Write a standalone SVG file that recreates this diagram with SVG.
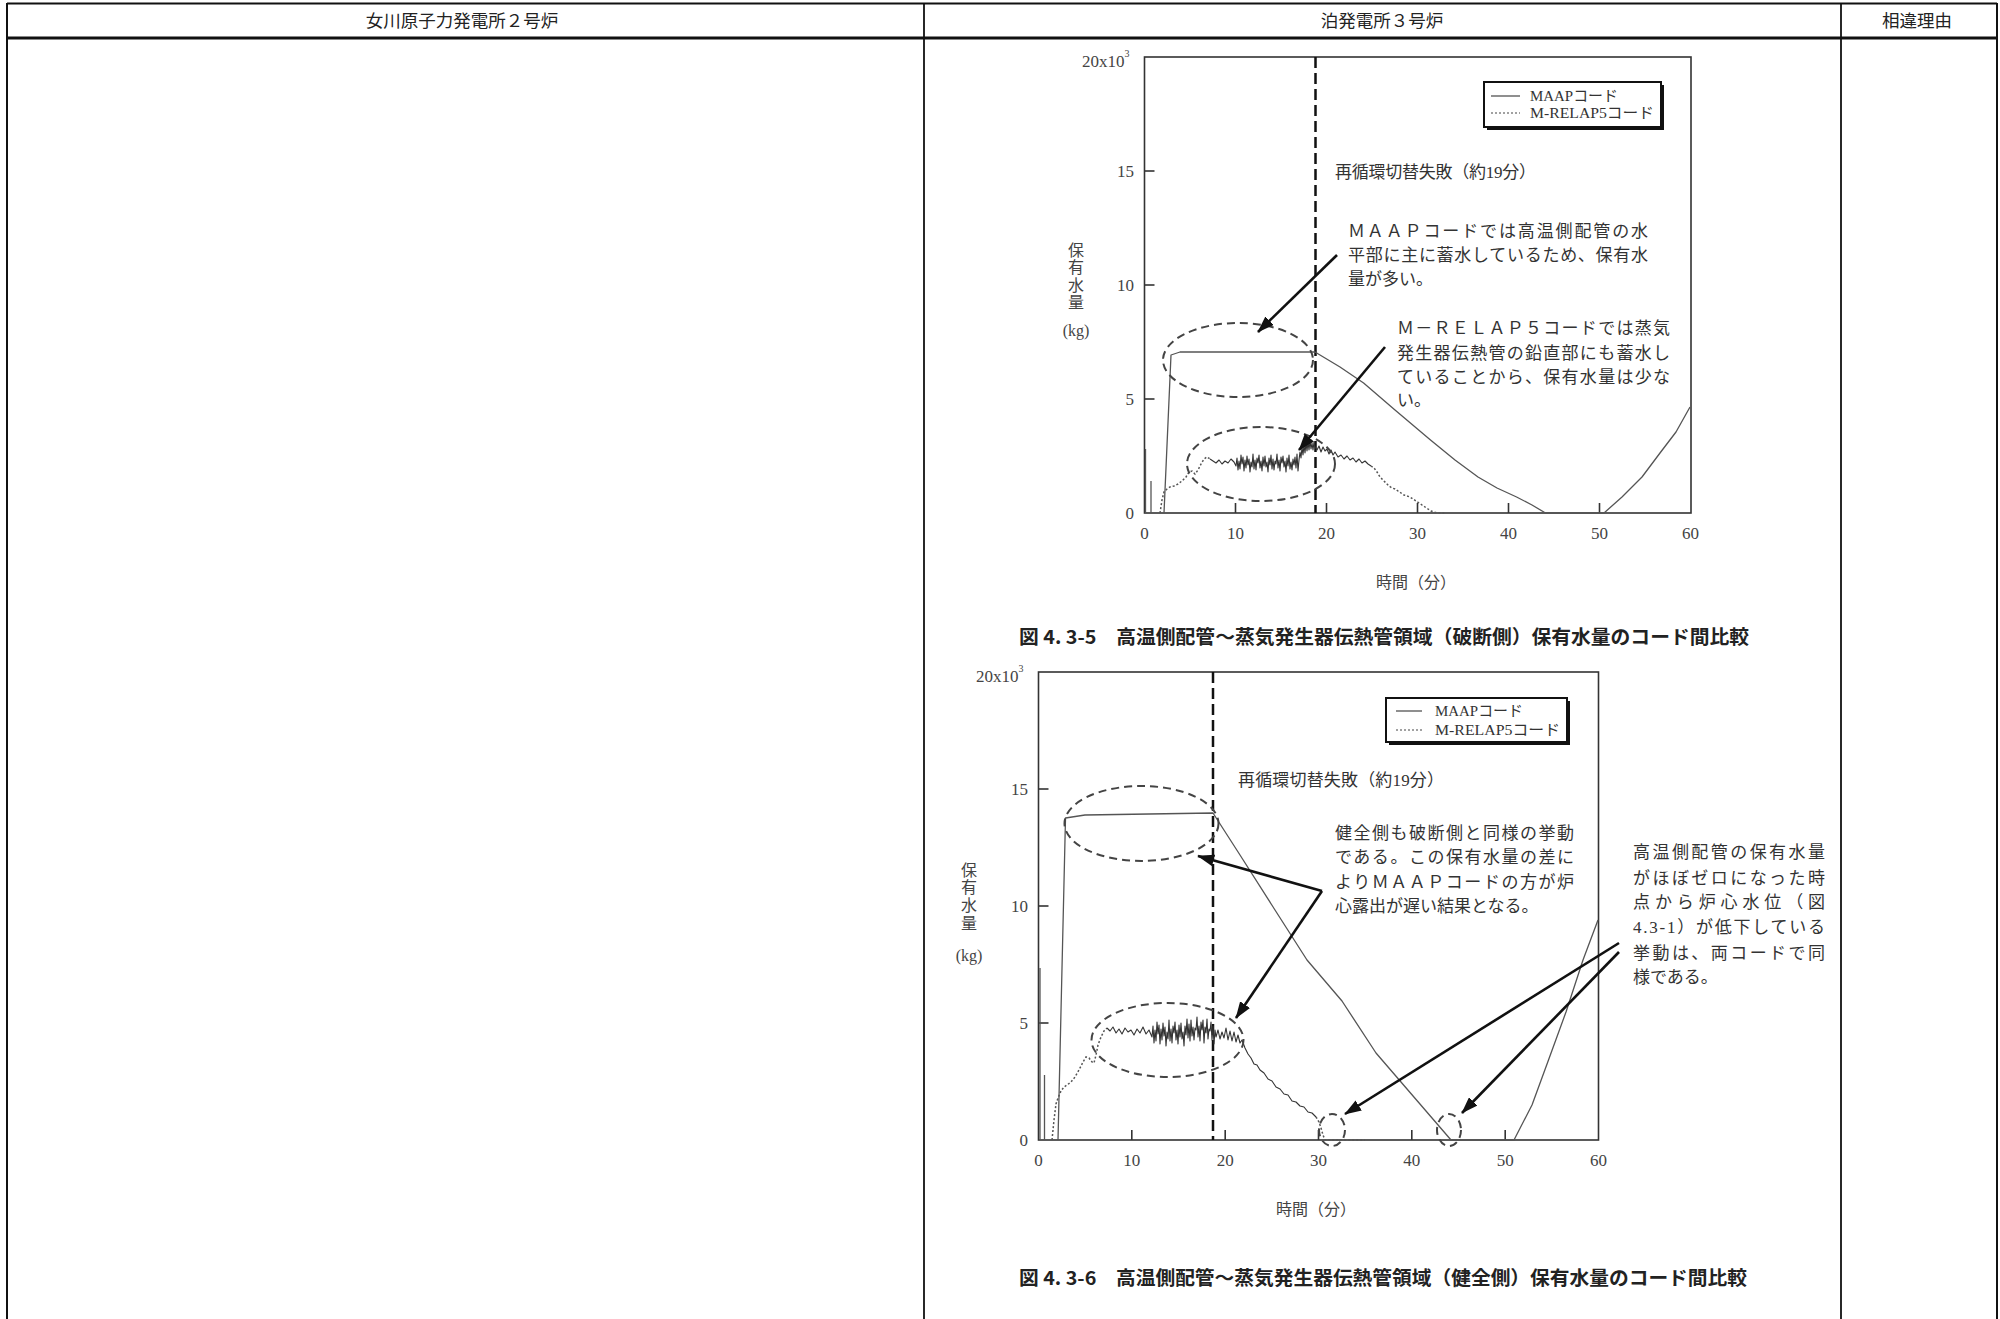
<svg xmlns="http://www.w3.org/2000/svg" width="2000" height="1319" viewBox="0 0 2000 1319">
<style>
.tbl{stroke:#111;fill:none}
.hdr{font-family:"Noto Sans CJK JP","Noto Sans",sans-serif;font-size:17.5px;fill:#222;text-anchor:middle}
.frame{fill:none;stroke:#333;stroke-width:1.6}
.tick{stroke:#333;stroke-width:1.6}
.num{font-family:"Liberation Serif","Noto Sans CJK JP",serif;font-size:17px;fill:#444}
.numx{font-family:"Liberation Serif","Noto Sans CJK JP",serif;font-size:17px;fill:#444;text-anchor:middle}
.lbl{font-family:"Liberation Serif","Noto Sans CJK JP",serif;font-size:16px;fill:#444;text-anchor:middle}
.ann{font-family:"Liberation Serif","Noto Sans CJK JP",serif;font-size:17px;fill:#333}
.cap{font-family:"Noto Sans CJK JP","Liberation Sans",sans-serif;font-size:19px;font-weight:bold;fill:#222}
.leg{font-family:"Liberation Serif","Noto Sans CJK JP",serif;font-size:15px;fill:#333}
.maap{fill:none;stroke:#555;stroke-width:1.3;stroke-linejoin:round}
.relapdot{fill:none;stroke:#555;stroke-width:1.5;stroke-dasharray:2 2}
.relapn{fill:none;stroke:#333;stroke-width:1.1;stroke-linejoin:round}
.trip{stroke:#111;stroke-width:2.5;stroke-dasharray:11 5}
.ell{fill:none;stroke:#444;stroke-width:2;stroke-dasharray:8 5}
.arr{stroke:#111;stroke-width:2.6;fill:none;marker-end:url(#ah)}
.legbox{fill:#fff;stroke:#111;stroke-width:2}
.shadow{stroke:#111;stroke-width:2}
</style>
<defs>
<marker id="ah" viewBox="0 0 10 7" refX="9.5" refY="3.5" markerWidth="17" markerHeight="12" markerUnits="userSpaceOnUse" orient="auto">
<path d="M0,0 L10,3.5 L0,7 z" fill="#111"/>
</marker>
</defs>
<rect width="2000" height="1319" fill="#fff"/>

<g id="table">
<line class="tbl" x1="7" y1="3.5" x2="1997" y2="3.5" stroke-width="2.2"/>
<line class="tbl" x1="7" y1="38" x2="1997" y2="38" stroke-width="3"/>
<line class="tbl" x1="7" y1="3" x2="7" y2="1319" stroke-width="2"/>
<line class="tbl" x1="924" y1="3" x2="924" y2="1319" stroke-width="1.8"/>
<line class="tbl" x1="1841" y1="3" x2="1841" y2="1319" stroke-width="1.8"/>
<line class="tbl" x1="1997" y1="3" x2="1997" y2="1319" stroke-width="2"/>
<text class="hdr" x="462" y="27">女川原子力発電所２号炉</text>
<text class="hdr" x="1382" y="27">泊発電所３号炉</text>
<text class="hdr" x="1917" y="27">相違理由</text>
</g>

<g id="chart-4-3-5">
<rect class="frame" x="1144.5" y="57" width="546.5" height="456"/>
<g class="tick">
<line x1="1235.5" y1="513" x2="1235.5" y2="503"/><line x1="1326.5" y1="513" x2="1326.5" y2="503"/><line x1="1417.5" y1="513" x2="1417.5" y2="503"/><line x1="1508.5" y1="513" x2="1508.5" y2="503"/><line x1="1599.5" y1="513" x2="1599.5" y2="503"/>
<line x1="1144.5" y1="399" x2="1154.5" y2="399"/><line x1="1144.5" y1="285" x2="1154.5" y2="285"/><line x1="1144.5" y1="171" x2="1154.5" y2="171"/>
</g>
<text class="num" x="1082" y="67">20x10<tspan dy="-10" font-size="10">3</tspan></text>
<text class="num" x="1134" y="177" text-anchor="end">15</text>
<text class="num" x="1134" y="291" text-anchor="end">10</text>
<text class="num" x="1134" y="405" text-anchor="end">5</text>
<text class="num" x="1134" y="519" text-anchor="end">0</text>
<g class="numx">
<text x="1144.5" y="539">0</text><text x="1235.5" y="539">10</text><text x="1326.5" y="539">20</text><text x="1417.5" y="539">30</text><text x="1508.5" y="539">40</text><text x="1599.5" y="539">50</text><text x="1690.5" y="539">60</text>
</g>
<text class="lbl" x="1416" y="588">時間（分）</text>
<g class="lbl">
<text x="1076" y="256">保</text><text x="1076" y="273">有</text><text x="1076" y="291">水</text><text x="1076" y="308">量</text><text x="1076" y="336">(kg)</text>
</g>
<g id="legend-1">
<line class="shadow" x1="1663" y1="85" x2="1663" y2="129"/><line class="shadow" x1="1487" y1="129" x2="1664" y2="129"/>
<rect class="legbox" x="1484" y="82" width="177" height="45"/>
<line x1="1491" y1="96" x2="1520" y2="96" stroke="#444" stroke-width="1.2"/>
<line x1="1491" y1="113" x2="1520" y2="113" stroke="#444" stroke-width="1.2" stroke-dasharray="2 2"/>
<text class="leg" x="1530" y="101" textLength="88" lengthAdjust="spacingAndGlyphs">MAAPコード</text>
<text class="leg" x="1530" y="118" textLength="124" lengthAdjust="spacingAndGlyphs">M-RELAP5コード</text>
</g>
<line class="trip" x1="1315.5" y1="57" x2="1315.5" y2="513"/>
<text class="ann" x="1335" y="178" font-size="16" textLength="201">再循環切替失敗（約19分）</text>
<g id="maap-1">
<polyline class="maap" points="1145.5,513 1145.5,449"/>
<polyline class="maap" points="1151,513 1151,481"/>
<polyline class="maap" points="1164,513 1171,355 1180,352 1315,352 1340,367 1363.6,383 1395,410 1430.5,440 1455,460 1478,477 1497,488 1516.6,497 1532,505 1545.5,513 1604,513 1622,497 1642,477 1660,453 1676,432 1690,407"/>
</g>
<g id="relap-1">
<polyline class="relapdot" points="1160,513 1162,500 1164,492 1167,489 1170,487 1174,486 1178,484 1182,481 1186,477 1189,472 1192,471 1195,474 1198,470 1201,464 1204,459 1207,457 1210,459"/>
<polyline class="relapn" points="1210,459 1213,461 1216,463 1219,460 1222,464 1225,461 1228,463 1231,459 1234,462 1236,466 1237,458 1238,470 1239,461 1240,469 1241,455 1242,464 1243,457 1244,471 1245,460 1246,468 1247,456 1248,465 1249,459 1250,472 1251,462 1252,467 1253,454 1254,469 1255,460 1256,470 1257,458 1258,463 1259,455 1260,468 1261,461 1262,471 1263,457 1264,466 1265,456 1266,467 1267,462 1268,472 1269,458 1270,465 1271,455 1272,469 1273,459 1274,470 1275,461 1276,464 1277,454 1278,468 1279,460 1280,471 1281,457 1282,463 1283,456 1284,467 1285,461 1286,472 1287,458 1288,466 1289,455 1290,469 1291,462 1292,470 1293,459 1294,465 1295,457 1296,468 1297,454 1298,471 1299,460 1300,452 1301,458 1302,447 1303,455 1304,445 1305,453 1306,443 1307,451 1308,442 1309,450 1310,441 1311,449 1312,443 1313,450 1314,442 1315,447 1317,450 1319,446 1321,452 1323,447 1325,451 1327,449 1329,454 1331,450 1333,455 1335,452 1338,457 1341,455 1344,459 1347,456 1350,460 1353,458 1356,462 1359,459 1362,463 1365,461 1368,464 1371,466"/>
<polyline class="relapdot" points="1371,466 1374,468 1377,472 1380,477 1383,480 1386,483 1389,486 1392,488 1395,489 1398,491 1401,493 1404,495 1407,496 1410,497 1413,499 1416,501 1419,503 1422,505 1425,507 1428,509 1431,511 1434,512 1437,513 1445,513"/>
</g>
<ellipse class="ell" cx="1238" cy="360" rx="75" ry="37"/>
<ellipse class="ell" cx="1261" cy="464" rx="74" ry="37"/>
<g id="note-1a">
<text class="ann" x="1348" y="237" textLength="300" lengthAdjust="spacing">ＭＡＡＰコードでは高温側配管の水</text>
<text class="ann" x="1348" y="261" textLength="300" lengthAdjust="spacing">平部に主に蓄水しているため、保有水</text>
<text class="ann" x="1348" y="285">量が多い。</text>
</g>
<g id="note-1b">
<text class="ann" x="1397" y="334" textLength="273" lengthAdjust="spacing">Ｍ－ＲＥＬＡＰ５コードでは蒸気</text>
<text class="ann" x="1397" y="359" textLength="273" lengthAdjust="spacing">発生器伝熱管の鉛直部にも蓄水し</text>
<text class="ann" x="1397" y="383" textLength="273" lengthAdjust="spacing">ていることから、保有水量は少な</text>
<text class="ann" x="1397" y="406">い。</text>
</g>
<text class="cap" x="1019" y="644" textLength="730" lengthAdjust="spacingAndGlyphs">図 4. 3-5　高温側配管～蒸気発生器伝熱管領域（破断側）保有水量のコード間比較</text>
</g>

<g id="chart-4-3-6">
<rect class="frame" x="1038.5" y="672" width="560" height="468"/>
<g class="tick">
<line x1="1131.8" y1="1140" x2="1131.8" y2="1130"/><line x1="1225.2" y1="1140" x2="1225.2" y2="1130"/><line x1="1318.5" y1="1140" x2="1318.5" y2="1130"/><line x1="1411.8" y1="1140" x2="1411.8" y2="1130"/><line x1="1505.2" y1="1140" x2="1505.2" y2="1130"/>
<line x1="1038.5" y1="1023" x2="1048.5" y2="1023"/><line x1="1038.5" y1="906" x2="1048.5" y2="906"/><line x1="1038.5" y1="789" x2="1048.5" y2="789"/>
</g>
<text class="num" x="976" y="682">20x10<tspan dy="-10" font-size="10">3</tspan></text>
<text class="num" x="1028" y="795" text-anchor="end">15</text>
<text class="num" x="1028" y="912" text-anchor="end">10</text>
<text class="num" x="1028" y="1029" text-anchor="end">5</text>
<text class="num" x="1028" y="1146" text-anchor="end">0</text>
<g class="numx">
<text x="1038.5" y="1166">0</text><text x="1131.8" y="1166">10</text><text x="1225.2" y="1166">20</text><text x="1318.5" y="1166">30</text><text x="1411.8" y="1166">40</text><text x="1505.2" y="1166">50</text><text x="1598.5" y="1166">60</text>
</g>
<text class="lbl" x="1316" y="1215">時間（分）</text>
<g class="lbl">
<text x="969" y="876">保</text><text x="969" y="893">有</text><text x="969" y="911">水</text><text x="969" y="929">量</text><text x="969" y="961">(kg)</text>
</g>
<g id="legend-2">
<line class="shadow" x1="1569" y1="701" x2="1569" y2="744"/><line class="shadow" x1="1389" y1="744" x2="1570" y2="744"/>
<rect class="legbox" x="1386" y="698" width="181" height="44"/>
<line x1="1396" y1="711" x2="1422" y2="711" stroke="#444" stroke-width="1.2"/>
<line x1="1396" y1="730" x2="1422" y2="730" stroke="#444" stroke-width="1.2" stroke-dasharray="2 2"/>
<text class="leg" x="1435" y="716" textLength="88" lengthAdjust="spacingAndGlyphs">MAAPコード</text>
<text class="leg" x="1435" y="735" textLength="125" lengthAdjust="spacingAndGlyphs">M-RELAP5コード</text>
</g>
<line class="trip" x1="1213" y1="672" x2="1213" y2="1140"/>
<text class="ann" x="1238" y="786" font-size="16" textLength="206">再循環切替失敗（約19分）</text>
<g id="maap-2">
<polyline class="maap" points="1040,1140 1040,968"/>
<polyline class="maap" points="1044.5,1140 1044.5,1075"/>
<polyline class="maap" points="1058,1140 1065.5,818 1085,815 1213,813 1240,855 1275,910 1307,960 1342,1001 1376,1053 1416.5,1100 1451,1140 1514,1140 1532,1105 1548.5,1060 1566,1012 1583,960 1598,920"/>
</g>
<g id="relap-2">
<polyline class="relapdot" points="1052,1140 1054,1120 1056,1104 1058,1098 1061,1091 1064,1087 1067,1085 1071,1082 1075,1077 1079,1070 1083,1062 1086,1057 1089,1058 1092,1062 1094,1063 1096,1055 1098,1045 1101,1037 1104,1031 1107,1028"/>
<polyline class="relapn" points="1107,1028 1110,1031 1113,1027 1116,1033 1119,1029 1122,1034 1125,1028 1128,1032 1131,1030 1134,1035 1137,1029 1140,1033 1143,1027 1146,1034 1149,1030 1152,1037 1153,1026 1154,1043 1155,1030 1156,1041 1157,1022 1158,1034 1159,1025 1160,1044 1161,1029 1162,1040 1163,1023 1164,1036 1165,1027 1166,1046 1167,1032 1168,1039 1169,1020 1170,1041 1171,1029 1172,1043 1173,1026 1174,1033 1175,1022 1176,1040 1177,1030 1178,1044 1179,1025 1180,1037 1181,1023 1182,1039 1183,1032 1184,1046 1185,1026 1186,1035 1187,1019 1188,1038 1189,1024 1190,1041 1191,1020 1192,1036 1193,1027 1194,1040 1195,1028 1196,1030 1197,1017 1198,1037 1199,1026 1200,1041 1201,1022 1202,1030 1203,1020 1204,1043 1205,1027 1206,1033 1207,1019 1208,1039 1209,1029 1210,1031 1211,1022 1212,1040 1213,1026 1214,1044 1215,1030 1216,1037 1218,1030 1220,1039 1222,1032 1224,1038 1226,1028 1228,1040 1230,1031 1232,1041 1234,1032 1236,1042 1238,1035 1240,1043 1242,1040 1245,1048 1248,1054 1251,1058 1254,1064 1257,1065 1260,1070 1264,1073 1268,1079 1272,1081 1276,1087 1280,1089 1284,1094 1288,1095 1292,1101 1296,1102 1300,1106 1304,1107 1308,1112 1312,1113 1316,1117"/>
<polyline class="relapdot" points="1316,1117 1319,1122 1321,1128 1323,1135 1325,1140 1365,1140"/>
</g>
<ellipse class="ell" cx="1141.5" cy="823.5" rx="77" ry="37.5"/>
<ellipse class="ell" cx="1167.5" cy="1040" rx="76" ry="37"/>
<ellipse class="ell" cx="1332" cy="1130" rx="13" ry="16"/>
<ellipse class="ell" cx="1449" cy="1130" rx="12" ry="16"/>
<g id="note-2a">
<text class="ann" x="1335" y="839" textLength="239" lengthAdjust="spacing">健全側も破断側と同様の挙動</text>
<text class="ann" x="1335" y="863" textLength="239" lengthAdjust="spacing">である。この保有水量の差に</text>
<text class="ann" x="1335" y="888" textLength="239" lengthAdjust="spacing">よりＭＡＡＰコードの方が炉</text>
<text class="ann" x="1335" y="912">心露出が遅い結果となる。</text>
</g>
<g id="note-2b">
<text class="ann" x="1633" y="858" textLength="192" lengthAdjust="spacing">高温側配管の保有水量</text>
<text class="ann" x="1633" y="884" textLength="192" lengthAdjust="spacing">がほぼゼロになった時</text>
<text class="ann" x="1633" y="908" textLength="192" lengthAdjust="spacing">点から炉心水位（図</text>
<text class="ann" x="1633" y="933" textLength="192" lengthAdjust="spacing">4.3-1）が低下している</text>
<text class="ann" x="1633" y="959" textLength="192" lengthAdjust="spacing">挙動は、両コードで同</text>
<text class="ann" x="1633" y="983">様である。</text>
</g>
<text class="cap" x="1019" y="1285" textLength="728" lengthAdjust="spacingAndGlyphs">図 4. 3-6　高温側配管～蒸気発生器伝熱管領域（健全側）保有水量のコード間比較</text>
</g>

<g id="connectors">
<line class="arr" x1="1337" y1="255" x2="1258" y2="332"/>
<line class="arr" x1="1385" y1="347" x2="1299" y2="450"/>
<line class="arr" x1="1322" y1="891" x2="1198" y2="856"/>
<line class="arr" x1="1322" y1="891" x2="1236" y2="1018"/>
<line class="arr" x1="1619" y1="943" x2="1345" y2="1114"/>
<line class="arr" x1="1619" y1="952" x2="1462" y2="1113"/>
</g>
</svg>
